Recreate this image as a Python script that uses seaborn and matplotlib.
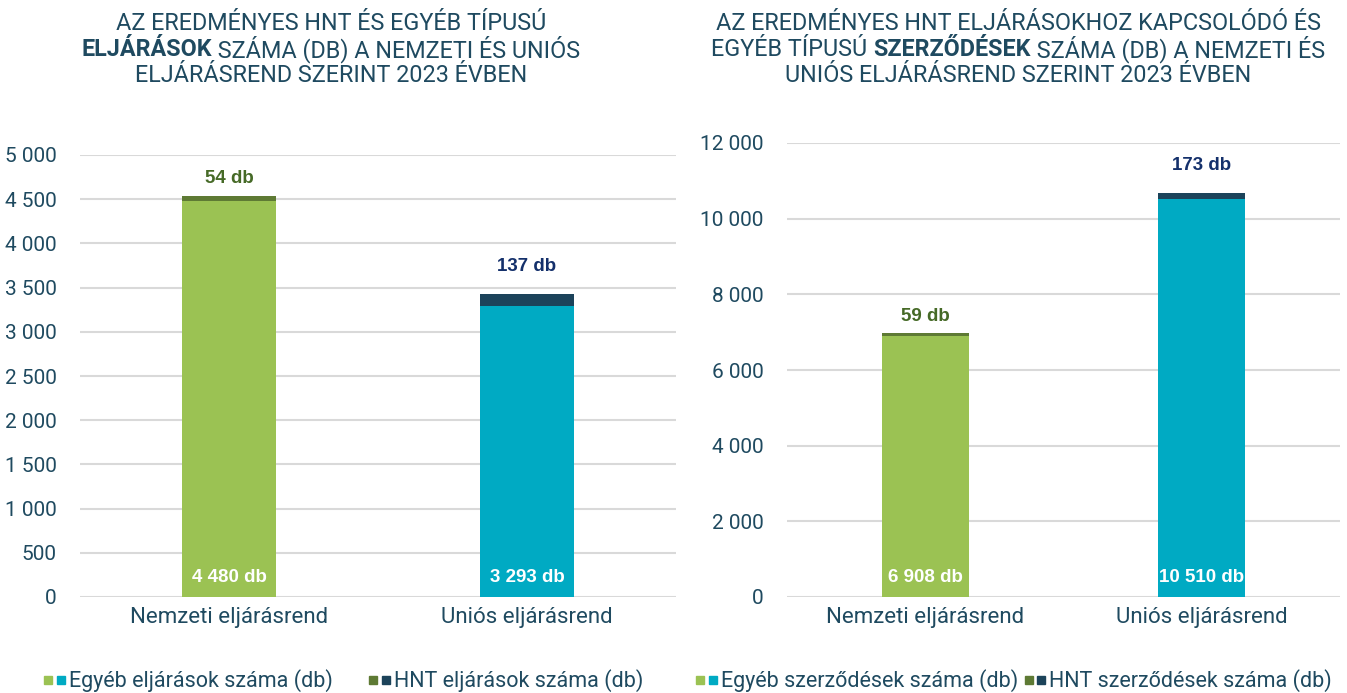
import matplotlib
matplotlib.use("Agg")
import matplotlib.pyplot as plt
import seaborn as sns
import pandas as pd
from matplotlib.lines import Line2D
from matplotlib.legend_handler import HandlerTuple
from matplotlib.ticker import FuncFormatter

categories = ["Nemzeti eljárásrend", "Uniós eljárásrend"]
eljarasok_egyeb = [4480, 3293]
eljarasok_hnt = [54, 137]
szerzodesek_egyeb = [6908, 10510]
szerzodesek_hnt = [59, 173]

light_colors = ["#9BC253", "#00AAC3"]
dark_colors = ["#5E7A34", "#1C435A"]
label_colors = ["#466A27", "#14306B"]
text_color = "#1F4A60"

sns.set_theme(style="white")
plt.rcParams["font.family"] = ["Roboto", "DejaVu Sans"]

fig = plt.figure(figsize=(13.47, 6.93), dpi=100)
ax1 = fig.add_axes([80 / 1347, 96 / 693, 596 / 1347, 442 / 693])
ax2 = fig.add_axes([787 / 1347, 96 / 693, 553 / 1347, 454 / 693])


def draw_panel(ax, egyeb, hnt, ymax, step):
    df = pd.DataFrame({"cat": categories, "egyeb": egyeb, "hnt": hnt})
    df["total"] = df["egyeb"] + df["hnt"]
    # teljes oszlop sötét színnel, rá a világos alap
    sns.barplot(data=df, x="cat", y="total", hue="cat", palette=dark_colors,
                width=0.315, legend=False, ax=ax, zorder=3, saturation=1, linewidth=0)
    sns.barplot(data=df, x="cat", y="egyeb", hue="cat", palette=light_colors,
                width=0.315, legend=False, ax=ax, zorder=4, saturation=1, linewidth=0)
    ax.set_ylim(0, ymax)
    ax.set_yticks(range(0, ymax + 1, step))
    ax.yaxis.set_major_formatter(FuncFormatter(lambda v, p: f"{v:,.0f}".replace(",", " ")))
    ax.grid(axis="y", color="#D9D9D9", linewidth=1.5, zorder=0)
    ax.set_axisbelow(True)
    for s in ax.spines.values():
        s.set_visible(False)
    ax.set_xlabel("")
    ax.set_ylabel("")
    ax.tick_params(axis="y", length=0, pad=17, labelsize=15, labelcolor=text_color)
    ax.tick_params(axis="x", length=0, pad=7, labelsize=16, labelcolor=text_color)
    for i, row in df.iterrows():
        ax.annotate(f"{row['egyeb']:,}".replace(",", " ") + " db", (i, 0),
                    xytext=(0, 14), textcoords="offset points", ha="center", va="center",
                    color="white", fontsize=13.5, fontweight="bold",
                    family="Liberation Sans", zorder=5)
        off = 12.5 if i == 0 else 20
        ax.annotate(f"{row['hnt']} db", (i, row["total"]),
                    xytext=(0, off), textcoords="offset points", ha="center", va="center",
                    color=label_colors[i], fontsize=13.5, fontweight="bold",
                    family="Liberation Sans", zorder=5)


draw_panel(ax1, eljarasok_egyeb, eljarasok_hnt, 5000, 500)
draw_panel(ax2, szerzodesek_egyeb, szerzodesek_hnt, 12000, 2000)


def title_lines(xc, lines, y0, dy=26):
    renderer = fig.canvas.get_renderer()
    for k, parts in enumerate(lines):
        y = 1 - (y0 + k * dy) / 693
        texts = []
        for txt, bold in parts:
            t = fig.text(0, y, txt, fontsize=16.8, color=text_color, va="center",
                         fontweight="bold" if bold else "normal")
            texts.append(t)
        widths = [t.get_window_extent(renderer).width for t in texts]
        x = xc - sum(widths) / 2
        for t, w in zip(texts, widths):
            t.set_x(x / 1347)
            x += w


title_lines(331, [[("AZ EREDMÉNYES HNT ÉS EGYÉB TÍPUSÚ", False)],
                  [("ELJÁRÁSOK", True), (" SZÁMA (DB) A NEMZETI ÉS UNIÓS", False)],
                  [("ELJÁRÁSREND SZERINT 2023 ÉVBEN", False)]], 23)
title_lines(1018, [[("AZ EREDMÉNYES HNT ELJÁRÁSOKHOZ KAPCSOLÓDÓ ÉS", False)],
                   [("EGYÉB TÍPUSÚ ", False), ("SZERZŐDÉSEK", True),
                    (" SZÁMA (DB) A NEMZETI ÉS", False)],
                   [("UNIÓS ELJÁRÁSREND SZERINT 2023 ÉVBEN", False)]], 23)


def sq(c):
    return Line2D([], [], marker="s", linestyle="none", markersize=6,
                  markerfacecolor=c, markeredgecolor=c)


legend_sets = [
    (42 / 1347, 1.6, ["Egyéb eljárások száma (db)", "HNT eljárások száma (db)"]),
    (694 / 1347, 0.2, ["Egyéb szerződések száma (db)", "HNT szerződések száma (db)"]),
]
for x0, colsp, labels in legend_sets:
    handles = [(sq(light_colors[0]), sq(light_colors[1])),
               (sq(dark_colors[0]), sq(dark_colors[1]))]
    fig.legend(handles, labels, loc="center left", bbox_to_anchor=(x0, 1 - 681 / 693),
               ncol=2, frameon=False, fontsize=15.5, labelcolor=text_color,
               handler_map={tuple: HandlerTuple(ndivide=None, pad=0)},
               handlelength=1.15, handletextpad=0.1, columnspacing=colsp,
               borderpad=0, borderaxespad=0)

fig.savefig("out.png", dpi=100)
